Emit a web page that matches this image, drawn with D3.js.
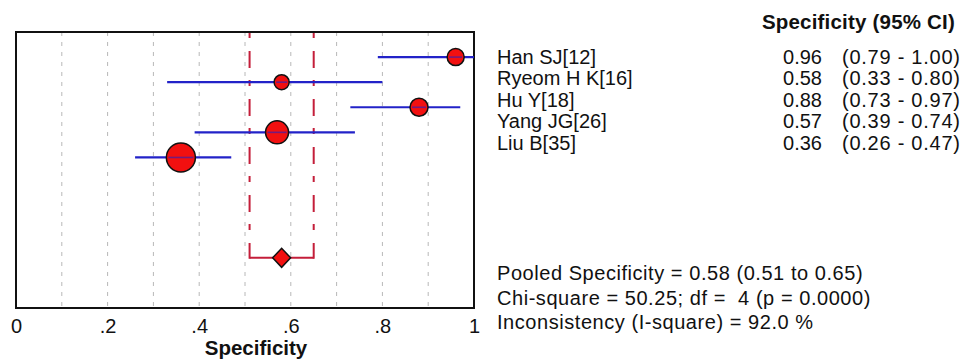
<!DOCTYPE html>
<html>
<head>
<meta charset="utf-8">
<script src="https://cdn.jsdelivr.net/npm/d3@7"></script>
<style>
  html, body { margin: 0; padding: 0; background: #fff; }
  svg { display: block; font-family: "Liberation Sans", Arial, sans-serif; }
  text { white-space: pre; }
</style>
</head>
<body>
<svg id="chart" width="978" height="361"></svg>
<script>
// Study-level specificity estimates with 95% confidence intervals
const studies = ["Han SJ[12]", "Ryeom H K[16]", "Hu Y[18]", "Yang JG[26]", "Liu B[35]"];
const specificity = [0.96, 0.58, 0.88, 0.57, 0.36];
const ciLower = [0.79, 0.33, 0.73, 0.39, 0.26];
const ciUpper = [1.00, 0.80, 0.97, 0.74, 0.47];
const studyWeight = [13.1, 10.2, 14.7, 24.0, 38.1]; // relative weight (%), sets marker size

// Pooled estimate
const pooled = 0.58;
const pooledLower = 0.51;
const pooledUpper = 0.65;

const xTicks = [0, 0.2, 0.4, 0.6, 0.8, 1];
const gridValues = [0.1, 0.2, 0.3, 0.4, 0.5, 0.6, 0.7, 0.8, 0.9];

const summaryLines = [
  "Pooled Specificity = 0.58 (0.51 to 0.65)",
  "Chi-square = 50.25; df =  4 (p = 0.0000)",
  "Inconsistency (I-square) = 92.0 %"
];

const svg = d3.select("#chart");
const box = { left: 16, right: 474, top: 32, bottom: 308 };

const x = d3.scaleLinear().domain([0, 1]).range([box.left, box.right]);
// eleven row slots inside the frame; studies use 0..4, pooled result uses 8
const y = d3.scaleLinear().domain([-1, 10]).range([box.top, box.bottom]);
const r = d3.scaleSqrt().domain([0, d3.max(studyWeight)]).range([0, 14.5]);

const RED = "#c41e3a";
const BLUE = "#2222c8";

// grid lines
svg.append("g").selectAll("line").data(gridValues).join("line")
  .attr("x1", d => x(d)).attr("x2", d => x(d))
  .attr("y1", box.top).attr("y2", box.bottom)
  .attr("stroke", "#b8b8b8").attr("stroke-width", 1)
  .attr("stroke-dasharray", "4,6");

// pooled CI bounds as dash-dot verticals ending in a bracket
const pY = y(8);
svg.append("g").selectAll("line").data([pooledLower, pooledUpper]).join("line")
  .attr("x1", d => x(d)).attr("x2", d => x(d))
  .attr("y1", box.top).attr("y2", pY + 1)
  .attr("stroke", RED).attr("stroke-width", 2)
  .attr("stroke-dasharray", "6,13,17,12");
svg.append("line")
  .attr("x1", x(pooledLower)).attr("x2", x(pooledUpper))
  .attr("y1", pY).attr("y2", pY)
  .attr("stroke", RED).attr("stroke-width", 2);

// frame
svg.append("rect")
  .attr("x", box.left).attr("y", box.top)
  .attr("width", box.right - box.left).attr("height", box.bottom - box.top)
  .attr("fill", "none").attr("stroke", "#111").attr("stroke-width", 2);

// study confidence intervals
const rows = studies.map((name, i) => ({
  name, i, est: specificity[i], lo: ciLower[i], hi: ciUpper[i], w: studyWeight[i]
}));

svg.append("g").selectAll("line").data(rows).join("line")
  .attr("x1", d => x(d.lo)).attr("x2", d => x(d.hi))
  .attr("y1", d => y(d.i)).attr("y2", d => y(d.i))
  .attr("stroke", BLUE).attr("stroke-width", 2.2);

// study point estimates, sized by weight
svg.append("g").selectAll("circle").data(rows).join("circle")
  .attr("cx", d => x(d.est)).attr("cy", d => y(d.i))
  .attr("r", d => r(d.w))
  .attr("fill", "#f21010").attr("stroke", "#111").attr("stroke-width", 1.5);
svg.append("g").selectAll("line").data(rows).join("line")
  .attr("x1", d => x(d.est) - r(d.w) + 2).attr("x2", d => x(d.est) + r(d.w) - 2)
  .attr("y1", d => y(d.i)).attr("y2", d => y(d.i))
  .attr("stroke", BLUE).attr("stroke-width", 1.6).attr("opacity", 0.6);

// pooled diamond
const dx = 9, dy = 9.5;
svg.append("path")
  .attr("d", `M${x(pooled) - dx},${pY} L${x(pooled)},${pY - dy} L${x(pooled) + dx},${pY} L${x(pooled)},${pY + dy} Z`)
  .attr("fill", "#f21010").attr("stroke", "#111").attr("stroke-width", 1.5);

// x axis labels
const axis = d3.axisBottom(x)
  .tickValues(xTicks)
  .tickSize(0)
  .tickPadding(0)
  .tickFormat(d => d === 0 ? "0" : d === 1 ? "1" : d3.format(".1f")(d).replace(/^0/, ""));
const gAxis = svg.append("g").attr("transform", `translate(0,${box.bottom})`).call(axis);
gAxis.select(".domain").remove();
gAxis.selectAll("text")
  .attr("y", 25).attr("dy", null)
  .attr("font-size", 20).attr("font-family", "Liberation Sans, Arial, sans-serif")
  .attr("fill", "#111");

svg.append("text")
  .attr("x", 256).attr("y", 355)
  .attr("text-anchor", "middle")
  .attr("font-size", 20.5).attr("font-weight", "bold").attr("fill", "#111")
  .text("Specificity");

// right-hand table
svg.append("text")
  .attr("x", 955).attr("y", 28.5)
  .attr("text-anchor", "end")
  .attr("font-size", 20.5).attr("font-weight", "bold").attr("fill", "#111")
  .attr("letter-spacing", 0.2)
  .text("Specificity (95% CI)");

const rowBase = i => 63.5 + i * 21.5;
const tbl = svg.append("g").attr("font-size", 20).attr("fill", "#111");
tbl.selectAll("text.name").data(rows).join("text")
  .attr("class", "name")
  .attr("x", 497).attr("y", d => rowBase(d.i))
  .text(d => d.name);
tbl.selectAll("text.est").data(rows).join("text")
  .attr("class", "est")
  .attr("x", 822).attr("y", d => rowBase(d.i))
  .attr("text-anchor", "end")
  .text(d => d3.format(".2f")(d.est));
tbl.selectAll("text.ci").data(rows).join("text")
  .attr("class", "ci")
  .attr("x", 842).attr("y", d => rowBase(d.i))
  .attr("letter-spacing", 0.75)
  .text(d => `(${d3.format(".2f")(d.lo)} - ${d3.format(".2f")(d.hi)})`);

// summary statistics
svg.append("g").attr("font-size", 20).attr("fill", "#111")
  .selectAll("text").data(summaryLines).join("text")
  .attr("x", 497).attr("y", (d, i) => 280 + i * 24.5)
  .attr("letter-spacing", 0.55)
  .text(d => d);
</script>
</body>
</html>
